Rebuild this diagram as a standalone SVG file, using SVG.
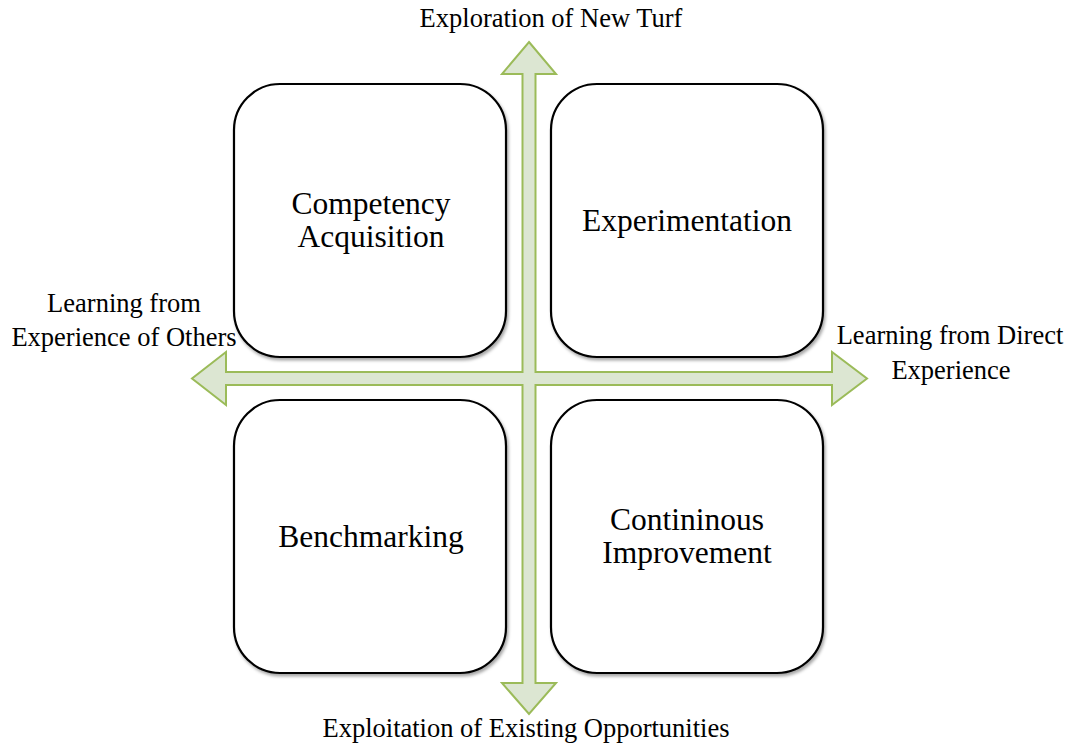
<svg xmlns="http://www.w3.org/2000/svg" width="1075" height="744" viewBox="0 0 1075 744">
<defs>
<filter id="sh" x="-10%" y="-10%" width="120%" height="120%">
<feDropShadow dx="1.5" dy="2.5" stdDeviation="1.5" flood-color="#000" flood-opacity="0.35"/>
</filter>
<style>
.box{fill:#fff;stroke:#000;stroke-width:2.2;filter:url(#sh)}
.bt{font-family:"Liberation Serif","Times New Roman",serif;font-size:31.5px;fill:#000;text-anchor:middle}
.at{font-family:"Liberation Serif","Times New Roman",serif;font-size:26.5px;fill:#000;text-anchor:middle}
.arr{fill:#dce6d2;stroke:#9bbb59;stroke-width:2;stroke-linejoin:miter}
</style>
</defs>
<rect width="1075" height="744" fill="#fff"/>
<g id="nodes">
<g id="competency"><rect class="box" x="234" y="84" width="272" height="273" rx="46"/><text class="bt" x="371" y="214">Competency</text><text class="bt" x="371" y="247">Acquisition</text></g>
<g id="experimentation"><rect class="box" x="551" y="84" width="272" height="273" rx="46"/><text class="bt" x="687" y="231">Experimentation</text></g>
<g id="benchmarking"><rect class="box" x="234" y="400" width="272" height="273" rx="46"/><text class="bt" x="371" y="547">Benchmarking</text></g>
<g id="continuous"><rect class="box" x="551" y="400" width="272" height="273" rx="46"/><text class="bt" x="687" y="530">Contininous</text><text class="bt" x="687" y="563">Improvement</text></g>
</g>
<g id="connectors">
<path class="arr" d="M529,42 L556,74 L535.5,74 L535.5,372 L832,372 L832,352 L867,378.5 L832,405 L832,385 L535.5,385 L535.5,683 L556,683 L529,714 L502,683 L522.5,683 L522.5,385 L226,385 L226,405 L192,378.5 L226,352 L226,372 L522.5,372 L522.5,74 L502,74 Z"/>
</g>
<g id="labels">
<text class="at" x="551" y="27">Exploration of New Turf</text>
<text class="at" x="526" y="737">Exploitation of Existing Opportunities</text>
<text class="at" x="124" y="312">Learning from</text>
<text class="at" x="124" y="346">Experience of Others</text>
<text class="at" x="950" y="344">Learning from Direct</text>
<text class="at" x="951" y="379">Experience</text>
</g>
</svg>
